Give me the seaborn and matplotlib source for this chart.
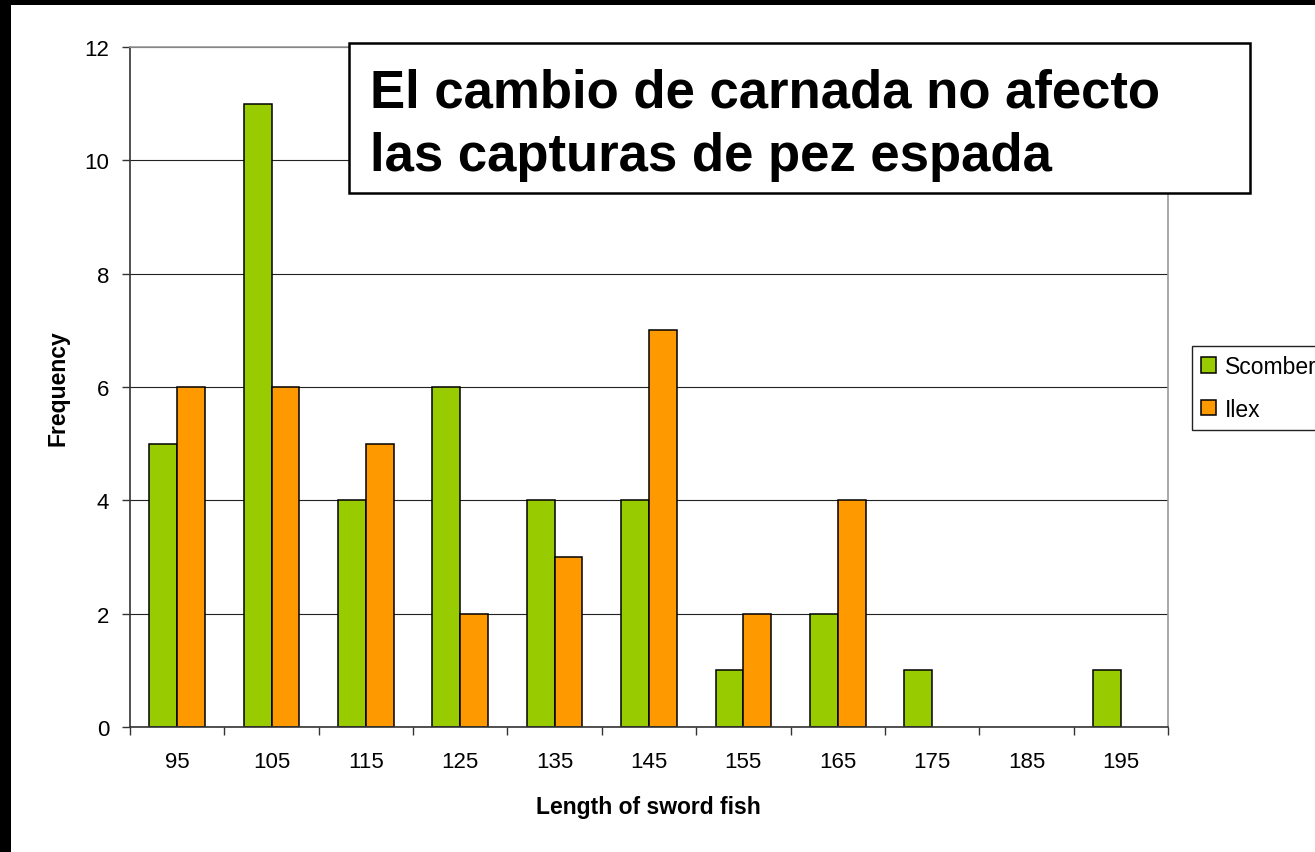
import matplotlib
matplotlib.use("Agg")
import matplotlib.pyplot as plt
from matplotlib.patches import Rectangle
import numpy as np
import pandas as pd
import seaborn as sns

# ────────────────────────────────────────────────────────────────
# Data
# ────────────────────────────────────────────────────────────────
lengths = ["95", "105", "115", "125", "135", "145", "155", "165", "175", "185", "195"]
scomber = [5, 11, 4, 6, 4, 4, 1, 2, 1, 0, 1]
ilex = [6, 6, 5, 2, 3, 7, 2, 4, 0, 0, 0]
series_names = ["Scomber", "Ilex"]
bar_colors = ["#99CC00", "#FF9900"]

title_lines = ["El cambio de carnada no afecto", "las capturas de pez espada"]

df = pd.DataFrame({
    "Length": lengths * 2,
    "Frequency": scomber + ilex,
    "Bait": [series_names[0]] * len(lengths) + [series_names[1]] * len(lengths),
})

# ────────────────────────────────────────────────────────────────
# Style
# ────────────────────────────────────────────────────────────────
sns.set_style("white")
plt.rcParams["font.family"] = ["Liberation Sans", "DejaVu Sans"]
plt.rcParams["text.color"] = "black"
plt.rcParams["axes.labelcolor"] = "black"

W, H = 1315, 853
fig = plt.figure(figsize=(W / 100, H / 100), dpi=100)
fig.patch.set_facecolor("white")

ax = fig.add_axes([130 / W, 1 - 728 / H, 1038 / W, 680 / H])

sns.barplot(
    data=df, x="Length", y="Frequency", hue="Bait",
    order=lengths, hue_order=series_names,
    palette=bar_colors, width=0.59, saturation=1,
    edgecolor="black", linewidth=1.1, ax=ax, zorder=3,
)

# empty bins: no outline on the baseline
for p in ax.patches:
    if p.get_height() == 0:
        p.set_linewidth(0)

ax.set_xlim(-0.5, len(lengths) - 0.5)
ax.set_ylim(0, 12)
ax.set_yticks(np.arange(0, 13, 2))

# horizontal gridlines
ax.yaxis.grid(True, color="#222222", linewidth=0.8)
ax.set_axisbelow(True)

# spines: axis lines dark, plot-area border gray
ax.spines["left"].set_color("#333333")
ax.spines["bottom"].set_color("#333333")
ax.spines["top"].set_color("#999999")
ax.spines["right"].set_color("#999999")
for s in ax.spines.values():
    s.set_visible(True)
    s.set_linewidth(1.2)
    s.set_zorder(4)

# Excel-style tick marks between categories
ax.set_xticks(np.arange(-0.5, len(lengths), 1.0), minor=True)
ax.tick_params(axis="x", which="major", length=0, pad=17, labelsize=16, colors="black")
ax.tick_params(axis="x", which="minor", length=6, width=1, direction="out", color="#333333", bottom=True)
ax.tick_params(axis="y", which="major", length=6, width=1, direction="out", color="#333333",
               pad=9, labelsize=16, colors="black", left=True)

ax.set_xlabel("")
ax.set_ylabel("")
fig.text(58 / W, 1 - 388 / H, "Frequency", rotation=90, ha="center", va="center",
         fontsize=16.5, fontweight="bold", color="black")
fig.text(648 / W, 1 - 808 / H, "Length of sword fish", ha="center", va="center",
         fontsize=16.5, fontweight="bold", color="black")

# legend
sns.move_legend(
    ax, loc="upper left", bbox_to_anchor=(1192 / W, 1 - 347 / H),
    bbox_transform=fig.transFigure, title=None, frameon=True, fancybox=False,
    fontsize=16.5, borderpad=0.4, labelspacing=0.85, handlelength=0.65,
    handleheight=0.65, handletextpad=0.4, borderaxespad=0,
)
leg = ax.get_legend()
leg.get_frame().set_edgecolor("#222222")
leg.get_frame().set_linewidth(1.0)
leg.get_frame().set_alpha(1)
for h in leg.legend_handles:
    h.set_edgecolor("black")
    h.set_linewidth(1.1)
for t in leg.get_texts():
    t.set_color("black")

# title box
fig.patches.append(Rectangle((349 / W, 1 - 194 / H), 901 / W, 150 / H,
                             transform=fig.transFigure, facecolor="white",
                             edgecolor="black", linewidth=1.8, zorder=5))
fig.text(370 / W, 1 - 107 / H, title_lines[0], ha="left", va="baseline",
         fontsize=38, fontweight="bold", color="black", zorder=6)
fig.text(370 / W, 1 - 171 / H, title_lines[1], ha="left", va="baseline",
         fontsize=38, fontweight="bold", color="black", zorder=6)

# black frame edges (left and top)
fig.patches.append(Rectangle((0, 0), 11 / W, 1, transform=fig.transFigure,
                             facecolor="black", edgecolor="none", zorder=10))
fig.patches.append(Rectangle((0, 1 - 6 / H), 1, 6 / H, transform=fig.transFigure,
                             facecolor="black", edgecolor="none", zorder=10))

fig.savefig("out.png", dpi=100)
plt.close(fig)
